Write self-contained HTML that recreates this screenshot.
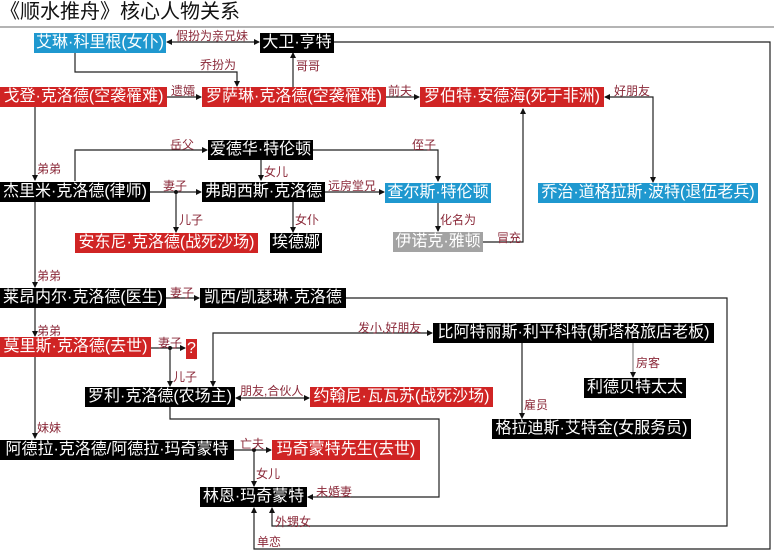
<!DOCTYPE html>
<html><head><meta charset="utf-8"><style>
body{margin:0;width:774px;height:554px;background:#fff;position:relative;overflow:hidden;font-family:"Liberation Sans","Noto Sans CJK SC",sans-serif}
.n{position:absolute;color:#fff;font-size:16px;line-height:20px;height:20px;white-space:nowrap;text-align:center;overflow:hidden}
.k{background:#000}.r{background:#d02424}.b{background:#1f98cf}.g{background:#a3a3a3}
.l{position:absolute;font-size:12px;color:#8a2838;line-height:12px;white-space:nowrap}
svg{position:absolute;left:0;top:0}
</style></head><body>
<div style="position:absolute;left:0;top:0;font-size:20px;line-height:24px;color:#111">《顺水推舟》核心人物关系</div>
<svg width="774" height="554">
<defs><marker id="a" markerWidth="6" markerHeight="6" refX="5" refY="3" orient="auto-start-reverse" markerUnits="userSpaceOnUse"><path d="M0,0L6,3L0,6z" fill="#111"/></marker></defs>
<g stroke="#222" stroke-width="1.2" fill="none">
<line x1="0" y1="27" x2="774" y2="27" stroke="#888"/>
<polyline points="334,42 770,42 770,549 254,549 254,508" marker-end="url(#a)"/>
<polyline points="346,298 727,298 727,526 272,526 272,508" marker-end="url(#a)"/>
<polyline points="170,407 170,419 439,419 439,497 308,497" marker-end="url(#a)"/>
<line x1="167" y1="42" x2="259" y2="42" marker-start="url(#a)" marker-end="url(#a)"/>
<polyline points="75,52 75,72 237,72 237,86" marker-end="url(#a)"/>
<line x1="167" y1="97" x2="201" y2="97" marker-end="url(#a)"/>
<line x1="293" y1="87" x2="293" y2="53" marker-end="url(#a)"/>
<line x1="386" y1="97" x2="419" y2="97" marker-end="url(#a)"/>
<polyline points="653,182 653,97 605,97" marker-start="url(#a)" marker-end="url(#a)"/>
<line x1="35" y1="107" x2="35" y2="180" marker-end="url(#a)"/>
<polyline points="75,181 75,150 207,150" marker-end="url(#a)"/>
<polyline points="313,150 438,150 438,181" marker-end="url(#a)"/>
<line x1="261" y1="160" x2="261" y2="180" marker-end="url(#a)"/>
<line x1="150" y1="192" x2="201" y2="192" marker-end="url(#a)"/>
<line x1="176" y1="192" x2="176" y2="232" marker-end="url(#a)"/>
<line x1="325" y1="192" x2="384" y2="192" marker-end="url(#a)"/>
<line x1="293" y1="202" x2="293" y2="232" marker-end="url(#a)"/>
<line x1="438" y1="203" x2="438" y2="231" marker-end="url(#a)"/>
<polyline points="483,242 523,242 523,109" marker-end="url(#a)"/>
<line x1="35" y1="202" x2="35" y2="287" marker-end="url(#a)"/>
<line x1="35" y1="308" x2="35" y2="336" marker-end="url(#a)"/>
<line x1="35" y1="357" x2="35" y2="438" marker-end="url(#a)"/>
<line x1="166" y1="298" x2="199" y2="298" marker-end="url(#a)"/>
<line x1="151" y1="348" x2="185" y2="348" marker-end="url(#a)"/>
<line x1="170" y1="348" x2="170" y2="386" marker-end="url(#a)"/>
<polyline points="213,386 213,333 432,333" marker-start="url(#a)" marker-end="url(#a)"/>
<line x1="236" y1="398" x2="309" y2="398" marker-start="url(#a)" marker-end="url(#a)"/>
<line x1="522" y1="343" x2="522" y2="418" marker-end="url(#a)"/>
<line x1="633" y1="343" x2="633" y2="377" stroke="#888" marker-end="url(#a)"/>
<line x1="234" y1="450" x2="271" y2="450" marker-end="url(#a)"/>
<line x1="254" y1="450" x2="254" y2="486" marker-end="url(#a)"/>
</g>
<g fill="#111"><circle cx="176" cy="192" r="2"/><circle cx="170" cy="348" r="2"/><circle cx="254" cy="450" r="2"/></g>
</svg>
<div class="n b" style="left:34px;top:33px;width:132px">艾琳·科里根(女仆)</div>
<div class="n k" style="left:260px;top:33px;width:74px">大卫·亨特</div>
<div class="n r" style="left:0;top:87px;width:167px">戈登·克洛德(空袭罹难)</div>
<div class="n r" style="left:202px;top:87px;width:184px">罗萨琳·克洛德(空袭罹难)</div>
<div class="n r" style="left:420px;top:87px;width:184px">罗伯特·安德海(死于非洲)</div>
<div class="n k" style="left:208px;top:140px;width:105px">爱德华·特伦顿</div>
<div class="n k" style="left:0;top:182px;width:150px">杰里米·克洛德(律师)</div>
<div class="n k" style="left:202px;top:182px;width:123px">弗朗西斯·克洛德</div>
<div class="n b" style="left:385px;top:183px;width:106px">查尔斯·特伦顿</div>
<div class="n b" style="left:538px;top:183px;width:220px">乔治·道格拉斯·波特(退伍老兵)</div>
<div class="n r" style="left:75px;top:233px;width:183px">安东尼·克洛德(战死沙场)</div>
<div class="n k" style="left:270px;top:233px;width:52px">埃德娜</div>
<div class="n g" style="left:393px;top:232px;width:90px">伊诺克·雅顿</div>
<div class="n k" style="left:0;top:288px;width:166px">莱昂内尔·克洛德(医生)</div>
<div class="n k" style="left:200px;top:288px;width:146px">凯西/凯瑟琳·克洛德</div>
<div class="n r" style="left:0;top:337px;width:151px">莫里斯·克洛德(去世)</div>
<div class="n r" style="left:186px;top:339px;width:11px">?</div>
<div class="n k" style="left:433px;top:323px;width:281px">比阿特丽斯·利平科特(斯塔格旅店老板)</div>
<div class="n k" style="left:584px;top:378px;width:102px">利德贝特太太</div>
<div class="n k" style="left:85px;top:387px;width:150px">罗利·克洛德(农场主)</div>
<div class="n r" style="left:310px;top:387px;width:183px">约翰尼·瓦瓦苏(战死沙场)</div>
<div class="n k" style="left:492px;top:419px;width:199px">格拉迪斯·艾特金(女服务员)</div>
<div class="n k" style="left:0;top:440px;width:234px">阿德拉·克洛德/阿德拉·玛奇蒙特</div>
<div class="n r" style="left:272px;top:440px;width:148px">玛奇蒙特先生(去世)</div>
<div class="n k" style="left:200px;top:487px;width:107px">林恩·玛奇蒙特</div>
<div class="l" style="left:176px;top:30px">假扮为亲兄妹</div>
<div class="l" style="left:200px;top:59px">乔扮为</div>
<div class="l" style="left:171px;top:85px">遗孀</div>
<div class="l" style="left:296px;top:60px">哥哥</div>
<div class="l" style="left:388px;top:85px">前夫</div>
<div class="l" style="left:614px;top:85px">好朋友</div>
<div class="l" style="left:37px;top:163px">弟弟</div>
<div class="l" style="left:170px;top:139px">岳父</div>
<div class="l" style="left:412px;top:139px">侄子</div>
<div class="l" style="left:264px;top:166px">女儿</div>
<div class="l" style="left:163px;top:180px">妻子</div>
<div class="l" style="left:179px;top:214px">儿子</div>
<div class="l" style="left:328px;top:180px">远房堂兄</div>
<div class="l" style="left:295px;top:214px">女仆</div>
<div class="l" style="left:440px;top:214px">化名为</div>
<div class="l" style="left:497px;top:232px">冒充</div>
<div class="l" style="left:37px;top:270px">弟弟</div>
<div class="l" style="left:37px;top:325px">弟弟</div>
<div class="l" style="left:37px;top:422px">妹妹</div>
<div class="l" style="left:170px;top:287px">妻子</div>
<div class="l" style="left:158px;top:337px">妻子</div>
<div class="l" style="left:173px;top:371px">儿子</div>
<div class="l" style="left:358px;top:322px">发小,好朋友</div>
<div class="l" style="left:240px;top:385px">朋友,合伙人</div>
<div class="l" style="left:524px;top:399px">雇员</div>
<div class="l" style="left:636px;top:357px">房客</div>
<div class="l" style="left:240px;top:438px">亡夫</div>
<div class="l" style="left:256px;top:468px">女儿</div>
<div class="l" style="left:316px;top:486px">未婚妻</div>
<div class="l" style="left:275px;top:516px">外甥女</div>
<div class="l" style="left:257px;top:536px">单恋</div>
</body></html>
